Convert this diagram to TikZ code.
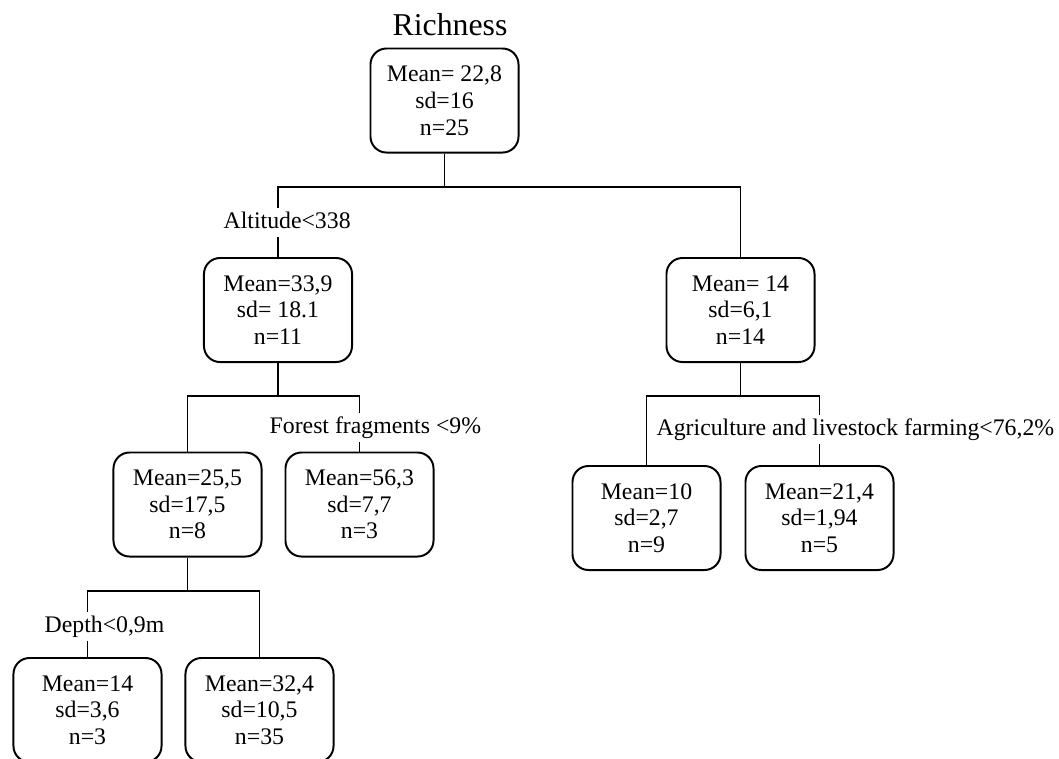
\documentclass[tikz,border=0pt]{standalone}
\usepackage{fontspec}
\setmainfont{Liberation Serif}

\tikzset{
	statbox/.style={draw, line width=1.4pt, rounded corners=0.4cm, minimum width=3.7cm, minimum height=2.6cm, align=center, inner sep=2pt, font=\fontsize{16.9}{19}\selectfont},
	link/.style={line width=1.2pt},
	splitlabel/.style={anchor=base west, fill=white, inner xsep=1pt, inner ysep=2pt, text height=12.5pt, text depth=4.2pt, font=\fontsize{16.9}{19}\selectfont}
}

\begin{document}
\begin{tikzpicture}[x=0.025cm, y=-0.025cm]
			%%%%% START %%%%%
			\useasboundingbox (0,0) rectangle (1059,758);
			
			\node[anchor=base, font=\fontsize{22.6}{26}\selectfont] (title) at (450,35) {Richness};
			
			\node[statbox] (root) at (444.5,100.5) {Mean= 22,8\\sd=16\\n=25};
			
			\node[statbox] (lowalt) at (278,310) {Mean=33,9\\sd= 18.1\\n=11};
			\node[statbox] (highalt) at (740.5,310) {Mean= 14\\sd=6,1\\n=14};
			
			\node[statbox] (fewfor) at (187.5,504.5) {Mean=25,5\\sd=17,5\\n=8};
			\node[statbox] (morefor) at (359.5,504.5) {Mean=56,3\\sd=7,7\\n=3};
			
			\node[statbox] (shallow) at (87.5,710) {Mean=14\\sd=3,6\\n=3};
			\node[statbox] (deep) at (259.5,710) {Mean=32,4\\sd=10,5\\n=35};
			
			\node[statbox] (lowagri) at (646.5,518) {Mean=10\\sd=2,7\\n=9};
			\node[statbox] (highagri) at (819.5,518) {Mean=21,4\\sd=1,94\\n=5};
			
			\coordinate (jroot) at (444.5,187);
			\coordinate (jlow) at (278,396);
			\coordinate (jhigh) at (740.5,396);
			\coordinate (jfew) at (187.5,591);
			
			\draw[link] (root.south) -- (jroot);
			\draw[link] (lowalt.north) |- (jroot) -| (highalt.north);
			
			\draw[link] (lowalt.south) -- (jlow);
			\draw[link] (fewfor.north) |- (jlow) -| (morefor.north);
			
			\draw[link] (fewfor.south) -- (jfew);
			\draw[link] (shallow.north) |- (jfew) -| (deep.north);
			
			\draw[link] (highalt.south) -- (jhigh);
			\draw[link] (lowagri.north) |- (jhigh) -| (highagri.north);
			
			\node[splitlabel] (altlab) at (222,228) {Altitude<338};
			\node[splitlabel] (forlab) at (268,433) {Forest fragments <9\%};
			\node[splitlabel] (deplab) at (43,632) {Depth<0,9m};
			\node[splitlabel] (agrilab) at (655,435) {Agriculture and livestock farming<76,2\%};
			
			%%%%% END %%%%%
\end{tikzpicture}
\end{document}
